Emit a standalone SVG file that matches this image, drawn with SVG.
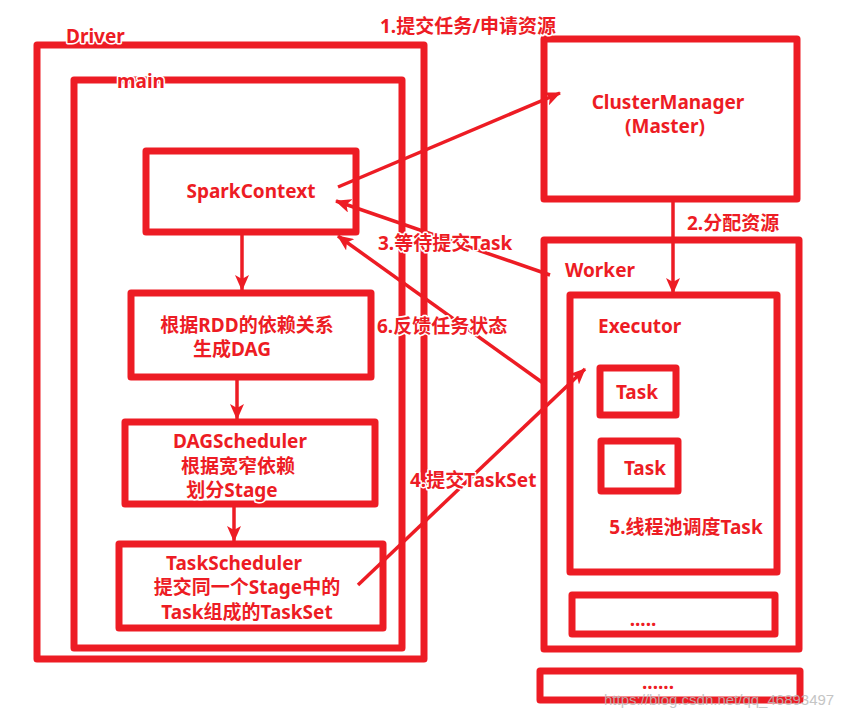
<svg xmlns="http://www.w3.org/2000/svg" width="858" height="717" viewBox="0 0 858 717">
<style>
.box{fill:none;stroke:#ED1C24;stroke-width:7;stroke-linejoin:round}
.ln{fill:none;stroke:#ED1C24;stroke-width:3.5}
.t{font-family:"Noto Sans","Noto Sans CJK SC",sans-serif;font-weight:bold;font-size:19px;fill:#ED1C24;stroke:#fff;stroke-width:3;paint-order:stroke;stroke-linejoin:round}
.c{text-anchor:middle}
.wm{font-family:"Liberation Sans",sans-serif;font-size:15px;fill:#bbb;opacity:0.85}
</style>
<defs>
<marker id="ah" viewBox="0 0 16 14" refX="15" refY="7" markerWidth="16" markerHeight="14" markerUnits="userSpaceOnUse" orient="auto">
<path d="M0,0 L16,7 L0,14 L4,7 Z" fill="#ED1C24"/>
</marker>
</defs>
<g id="driver"><rect class="box" x="37" y="45" width="387" height="614"/><text class="t" x="66" y="43">Driver</text></g>
<g id="main"><rect class="box" x="74" y="80" width="328" height="568"/><text class="t" x="117" y="88">main</text></g>
<g id="sparkcontext"><rect class="box" x="146" y="151" width="210" height="81"/><text class="t c" x="251" y="198">SparkContext</text></g>
<g id="dag"><rect class="box" x="131" y="293" width="240" height="84"/><text class="t c" x="247" y="332">根据RDD的依赖关系</text><text class="t c" x="232" y="356">生成DAG</text></g>
<g id="dagscheduler"><rect class="box" x="125" y="422" width="250" height="82"/><text class="t c" x="240" y="448">DAGScheduler</text><text class="t c" x="238" y="473">根据宽窄依赖</text><text class="t c" x="232" y="497">划分Stage</text></g>
<g id="taskscheduler"><rect class="box" x="119" y="544" width="264" height="84"/><text class="t c" x="234" y="570">TaskScheduler</text><text class="t c" x="247" y="594">提交同一个Stage中的</text><text class="t c" x="247" y="619">Task组成的TaskSet</text></g>
<g id="clustermanager"><rect class="box" x="544" y="39" width="253" height="160"/><text class="t c" x="668" y="109">ClusterManager</text><text class="t c" x="665" y="133">(Master)</text></g>
<g id="worker"><rect class="box" x="544" y="240" width="255" height="409"/><text class="t" x="565" y="277">Worker</text></g>
<g id="executor"><rect class="box" x="570" y="295" width="207" height="277"/><text class="t" x="598" y="333">Executor</text><text class="t c" x="686" y="534">5.线程池调度Task</text></g>
<g id="task1"><rect class="box" x="600" y="368" width="76" height="47"/><text class="t c" x="637" y="399">Task</text></g>
<g id="task2"><rect class="box" x="601" y="441" width="77" height="50"/><text class="t c" x="645" y="475">Task</text></g>
<g id="more1"><rect class="box" x="572" y="595" width="203" height="39"/><text class="t c" x="643" y="626">.....</text></g>
<g id="more2"><rect class="box" x="540" y="671" width="260" height="29"/><text class="t c" x="658" y="689">......</text></g>
<g id="connectors">
<line class="ln" x1="242" y1="232" x2="242" y2="290" marker-end="url(#ah)"/>
<line class="ln" x1="237" y1="377" x2="237" y2="419" marker-end="url(#ah)"/>
<line class="ln" x1="234" y1="504" x2="234" y2="541" marker-end="url(#ah)"/>
<line class="ln" x1="673" y1="199" x2="673" y2="293" marker-end="url(#ah)"/>
<line class="ln" x1="338" y1="187" x2="560" y2="93" marker-end="url(#ah)"/>
<line class="ln" x1="550" y1="275" x2="336" y2="201" marker-end="url(#ah)"/>
<line class="ln" x1="543" y1="383" x2="338" y2="236" marker-end="url(#ah)"/>
<line class="ln" x1="358" y1="585" x2="585" y2="369" marker-end="url(#ah)"/>
</g>
<g id="labels">
<text class="t" x="380" y="33">1.提交任务/申请资源</text>
<text class="t" x="687" y="230">2.分配资源</text>
<text class="t" x="378" y="250">3.等待提交Task</text>
<text class="t" x="377" y="333">6.反馈任务状态</text>
<text class="t" x="410" y="487">4.提交TaskSet</text>
</g>
<text class="wm" x="604" y="705">https://blog.csdn.net/qq_46893497</text>
</svg>
